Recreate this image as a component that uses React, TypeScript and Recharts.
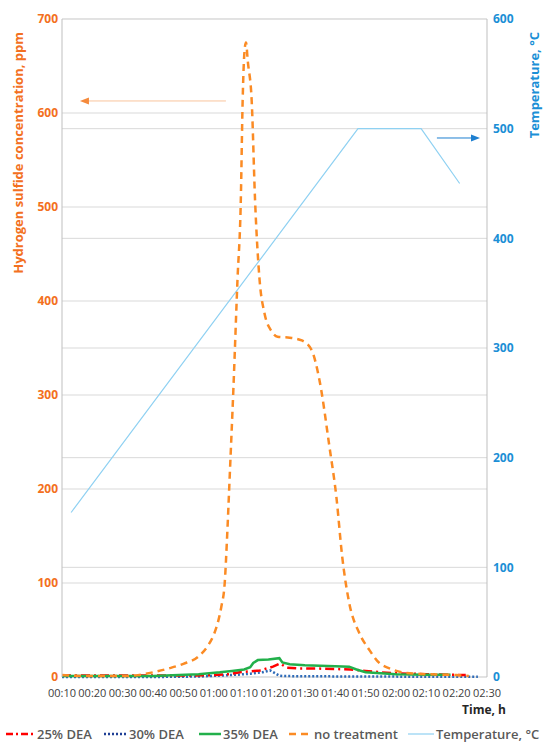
import React from 'react'
import { LineChart, Line, XAxis, YAxis, CartesianGrid, ReferenceLine, Label } from 'recharts'

// time axis in minutes from 00:00
const timeTicks = [10, 20, 30, 40, 50, 60, 70, 80, 90, 100, 110, 120, 130, 140, 150]
const ppmTicks = [0, 100, 200, 300, 400, 500, 600, 700]
const tempTicks = [0, 100, 200, 300, 400, 500, 600]

const noTreatMin = [10, 20, 30, 35, 40, 45, 50, 55, 58, 60, 61.5, 62.5, 63.6, 64.4, 65.2, 66.5, 67.8, 68.9, 69.5, 70.1, 70.6, 71.2, 72.5, 73.6, 75.1, 76.7, 79, 81, 85, 89, 92.2, 94.8, 98.1, 100.4, 102.3, 104.6, 107.9, 111.2, 114.5, 118, 122, 130, 140, 144]
const noTreatPpm = [2, 1, 1, 2, 5, 9, 14, 22, 33, 45, 60, 75, 100, 150, 210, 310, 422, 507, 612, 665, 675, 655, 612, 507, 422, 387, 368, 362, 361, 358, 348, 316, 245, 191, 128, 79, 47, 29, 15, 9, 5, 3, 2, 1]

const dea25Min = [10, 30, 50, 60, 65, 68.5, 72, 75.2, 79.5, 81.8, 84, 88, 94, 100, 105, 110, 115, 120, 130, 143]
const dea25Ppm = [1.5, 1.5, 1.5, 2, 3, 5, 6, 7, 11, 14.5, 10, 9, 9, 8.5, 8, 6.5, 5, 4, 3, 2]

const dea30Min = [10, 40, 55, 62, 68, 72, 76, 78.5, 80.2, 81.5, 83, 90, 110, 130, 147]
const dea30Ppm = [0, 0, 0.5, 1.5, 2.5, 3.5, 5, 7, 4, 1.5, 1, 0.8, 0.5, 0.3, 0.3]

const dea35Min = [10, 40, 55, 62, 66, 70, 72, 73, 74.5, 78, 81.6, 82.6, 85, 90, 100, 104.6, 107, 110, 115, 120, 130, 138]
const dea35Ppm = [1, 1, 3, 5, 6.5, 8, 10.5, 15, 18, 18.5, 20, 15.5, 13.5, 12.5, 11.5, 11, 8, 5, 4, 3, 2.5, 2.5]

const tempMin = [13, 107.5, 128.3, 141]
const tempC = [150, 500, 500, 450]

const ORANGE_TXT = '#f37021'
const ORANGE = '#fb8b24'
const BLUE_TXT = '#1b8fd6'
const GREY = '#595959'

const pts = (m: number[], v: number[]) => m.map((t, i) => ({ t, v: v[i] }))

const fmtTime = (m: number) =>
  `${String(Math.floor(m / 60)).padStart(2, '0')}:${String(m % 60).padStart(2, '0')}`

const arrow = (head: string, stem: string) => (p: any) => {
  const { x1, y1, x2, y2 } = p
  const dir = Math.sign(x2 - x1)
  return (
    <g>
      <line x1={x1} y1={y1} x2={x2 - dir * 7} y2={y2} stroke={stem} strokeWidth={1} />
      <polygon points={`${x2},${y2} ${x2 - dir * 9},${y2 - 3.5} ${x2 - dir * 9},${y2 + 3.5}`} fill={head} />
    </g>
  )
}

const sideLabel = (text: string, color: string, dx: number) => (p: any) => {
  const vb = p.viewBox
  const x = vb.x + dx
  const y = 32
  return (
    <text
      x={x}
      y={y}
      transform={`rotate(-90 ${x} ${y})`}
      textAnchor="end"
      dominantBaseline="central"
      fill={color}
      fontWeight={700}
      fontSize={13}
    >
      {text}
    </text>
  )
}

const legendItems = [
  { name: '25% DEA', color: '#ff0000', dash: '7 3 2 3', width: 2.5, left: 6, sw: 29 },
  { name: '30% DEA', color: '#1f3f95', dash: '2 2', width: 2.5, left: 104, sw: 23 },
  { name: '35% DEA', color: '#22b04b', dash: undefined, width: 2.5, left: 199, sw: 22 },
  { name: 'no treatment', color: ORANGE, dash: '7 5', width: 2.5, left: 289, sw: 23 },
  { name: 'Temperature, °C', color: '#8fd1f2', dash: undefined, width: 1.2, left: 408, sw: 26 },
]

export default function App() {
  return (
    <div style={{ position: 'relative', width: 543, height: 744, overflow: 'hidden', fontFamily: '"Open Sans", sans-serif' }}>
      <style>{'body{margin:0}'}</style>
      <LineChart width={543} height={720} margin={{ top: 19, right: 0, bottom: 0, left: 0 }}>
        <CartesianGrid yAxisId="left" vertical={false} stroke="#d9d9d9" />
        <CartesianGrid yAxisId="right" vertical={false} stroke="#d9d9d9" />
        <XAxis
          dataKey="t"
          type="number"
          domain={[10, 150]}
          ticks={timeTicks}
          tickFormatter={fmtTime}
          allowDataOverflow
          height={43}
          tickSize={0}
          tickMargin={12}
          axisLine={false}
          tick={{ fill: '#404040', fontSize: 11 }}
        >
          <Label value="Time, h" position="insideBottomRight" offset={6} dx={25} fill="#262626" fontWeight={700} fontSize={12} />
        </XAxis>
        <YAxis
          yAxisId="left"
          domain={[0, 700]}
          ticks={ppmTicks}
          width={62}
          tickSize={0}
          tickMargin={4}
          axisLine={{ stroke: '#bfbfbf' }}
          tick={{ fill: ORANGE_TXT, fontSize: 12, fontWeight: 700 }}
        >
          <Label content={sideLabel('Hydrogen sulfide concentration, ppm', ORANGE_TXT, 18)} />
        </YAxis>
        <YAxis
          yAxisId="right"
          orientation="right"
          domain={[0, 600]}
          ticks={tempTicks}
          width={56}
          tickSize={0}
          tickMargin={6}
          axisLine={{ stroke: '#bfbfbf' }}
          tick={{ fill: BLUE_TXT, fontSize: 12, fontWeight: 700, textAnchor: 'start' }}
        >
          <Label content={sideLabel('Temperature, °C', BLUE_TXT, 47)} />
        </YAxis>

        <Line yAxisId="right" data={pts(tempMin, tempC)} dataKey="v" type="linear" stroke="#8fd1f2" strokeWidth={1.2} dot={false} isAnimationActive={false} />
        <Line yAxisId="left" data={pts(dea30Min, dea30Ppm)} dataKey="v" type="linear" stroke="#2e6bb8" strokeWidth={2.5} strokeDasharray="2 2" dot={false} isAnimationActive={false} />
        <Line yAxisId="left" data={pts(dea25Min, dea25Ppm)} dataKey="v" type="linear" stroke="#ff0000" strokeWidth={2.5} strokeDasharray="9 4 2 4" dot={false} isAnimationActive={false} />
        <Line yAxisId="left" data={pts(dea35Min, dea35Ppm)} dataKey="v" type="linear" stroke="#22b04b" strokeWidth={2.5} dot={false} isAnimationActive={false} />
        <Line yAxisId="left" data={pts(noTreatMin, noTreatPpm)} dataKey="v" type="monotone" stroke={ORANGE} strokeWidth={2.5} strokeDasharray="7 5" dot={false} isAnimationActive={false} />

        <ReferenceLine yAxisId="left" segment={[{ x: 64, y: 612.8 }, { x: 15.9, y: 612.8 }]} shape={arrow('#f58a3c', '#f9c49c')} />
        <ReferenceLine yAxisId="right" segment={[{ x: 133.5, y: 491.5 }, { x: 147.7, y: 491.5 }]} shape={arrow('#1d7fd0', '#1d7fd0')} />
      </LineChart>

      {legendItems.map((it) => (
        <div
          key={it.name}
          style={{
            position: 'absolute',
            left: it.left,
            top: 726,
            height: 16,
            lineHeight: '16px',
            display: 'flex',
            alignItems: 'center',
            whiteSpace: 'nowrap',
            fontSize: 13,
            fontWeight: 600,
            color: GREY,
          }}
        >
          <svg width={it.sw} height={10} style={{ marginRight: 2 }}>
            <line x1={0} y1={5} x2={it.sw} y2={5} stroke={it.color} strokeWidth={it.width} strokeDasharray={it.dash} />
          </svg>
          {it.name}
        </div>
      ))}
    </div>
  )
}
